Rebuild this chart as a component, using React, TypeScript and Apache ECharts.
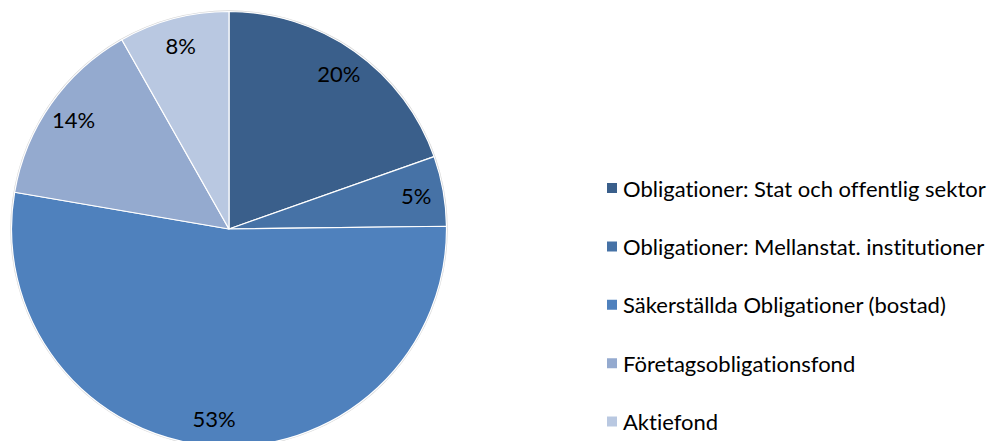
import React, { useEffect, useRef } from "react";
import * as echarts from "echarts";

const categories = [
  "Obligationer: Stat och offentlig sektor",
  "Obligationer: Mellanstat. institutioner",
  "Säkerställda Obligationer (bostad)",
  "Företagsobligationsfond",
  "Aktiefond",
];
const values = [19.6, 5.2, 52.9, 14.1, 8.2];
const colors = ["#3A5F8B", "#4672A6", "#4F81BD", "#94AACF", "#B9C8E1"];

const FONT = "Lato, 'Noto Sans', sans-serif";

export default function App() {
  const ref = useRef<HTMLDivElement>(null);
  useEffect(() => {
    if (!ref.current) return;
    const chart = echarts.init(ref.current, undefined, { renderer: "svg" });
    const R = 217.5;
    const CX = 229;
    const CY = 229;
    const data = categories.map((name, i) => ({
      name,
      value: values[i],
      itemStyle: { color: colors[i] },
    }));
    chart.setOption({
      animation: false,
      backgroundColor: "#ffffff",
      textStyle: { fontFamily: FONT },
      graphic: [
        {
          type: "ring",
          shape: { cx: CX, cy: CY, r: R + 1.2, r0: R - 0.2 },
          style: { fill: "rgba(0,0,0,0.16)" },
          silent: true,
          z: 0,
        },
      ],
      legend: {
        orient: "vertical",
        left: 605,
        top: 175,
        padding: 0,
        icon: "rect",
        itemWidth: 12,
        itemHeight: 12,
        itemGap: 32.4,
        data: categories,
        textStyle: {
          fontFamily: FONT,
          fontSize: 22,
          color: "#000000",
          lineHeight: 26,
        },
        selectedMode: false,
      },
      series: [
        {
          type: "pie",
          center: [CX, CY],
          radius: [0, R],
          startAngle: 90,
          clockwise: true,
          silent: true,
          z: 2,
          label: { show: false },
          labelLine: { show: false },
          itemStyle: {
            borderColor: "#ffffff",
            borderWidth: 1.2,
          },
          data,
        },
        {
          type: "pie",
          center: [CX, CY],
          radius: [R * 0.72, R],
          startAngle: 90,
          clockwise: true,
          silent: true,
          z: 3,
          itemStyle: { color: "transparent", borderWidth: 0 },
          label: {
            show: true,
            position: "inside",
            fontFamily: FONT,
            fontSize: 22,
            color: "#000000",
            formatter: (p: any) => Math.round(p.percent) + "%",
          },
          labelLine: { show: false },
          data: categories.map((name, i) => ({
            name,
            value: values[i],
            itemStyle: { color: "transparent" },
          })),
        },
      ],
    });
    return () => chart.dispose();
  }, []);
  return (
    <>
      <style>{`svg text { font-variant-ligatures: none !important; font-feature-settings: "liga" 0, "clig" 0 !important; }`}</style>
      <div
        ref={ref}
        style={{ position: "fixed", left: 0, top: 0, width: 999, height: 441 }}
      />
    </>
  );
}
